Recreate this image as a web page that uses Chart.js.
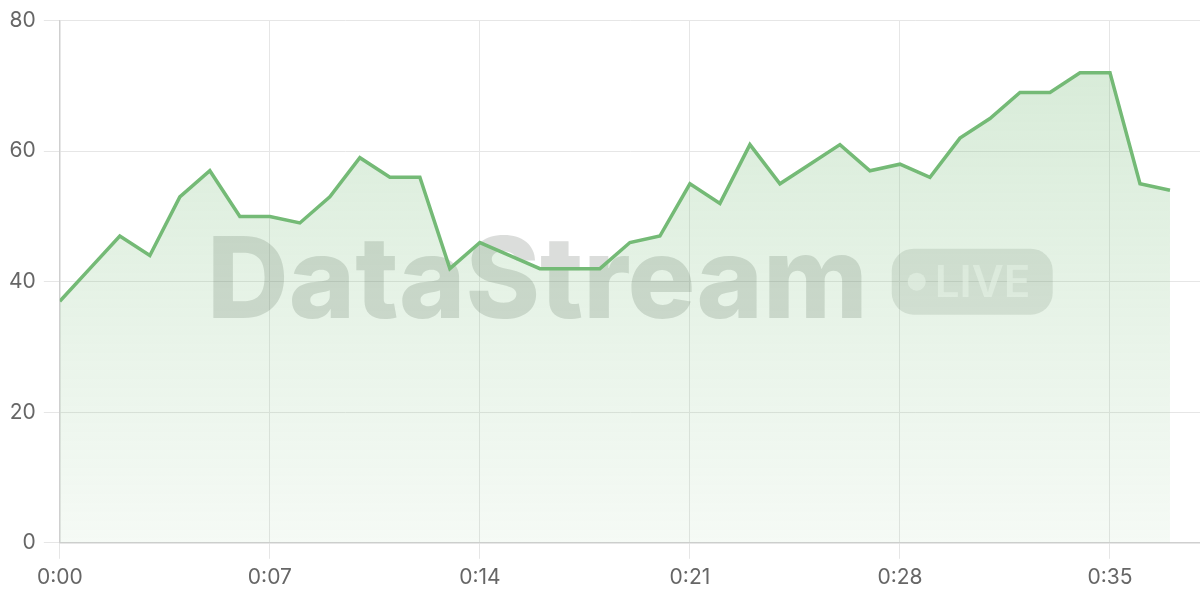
<!DOCTYPE html>
<html>
<head>
<meta charset="utf-8">
<script src="https://cdn.jsdelivr.net/npm/chart.js@4/dist/chart.umd.min.js"></script>
<style>
  html, body { margin: 0; padding: 0; background: #fff; }
  #wrap { width: 1200px; height: 600px; }
</style>
</head>
<body>
<div id="wrap"><canvas id="myChart"></canvas></div>
<script>
// seconds since start and the reading at each second
var seconds = [0,1,2,3,4,5,6,7,8,9,10,11,12,13,14,15,16,17,18,19,
               20,21,22,23,24,25,26,27,28,29,30,31,32,33,34,35,36,37];
var readings = [37,42,47,44,53,57,50,50,49,53,59,56,56,42,46,44,42,42,42,46,
                47,55,52,61,55,58,61,57,58,56,62,65,69,69,72,72,55,54];
var yTicks = [0, 20, 40, 60, 80];

var lineColor = 'rgb(116, 186, 118)';
var tickFont = { family: 'Inter, "Noto Sans", sans-serif', size: 21 };

function fmtSec(s) {
    var m = Math.floor(s / 60);
    var r = s % 60;
    return m + ':' + (r < 10 ? '0' : '') + r;
}

/////////////////////////////////////////////////////////////////
var watermark = {
    id: 'watermark',
    beforeDatasetsDraw: function (chart) {
        var ctx = chart.ctx;
        var area = chart.chartArea;
        var cx = (area.left + area.right) / 2;
        var cy = (area.top + area.bottom) / 2;

        ctx.save();
        ctx.font = '800 113px Inter, "Noto Sans", sans-serif';
        var word = 'DataStream';
        var wordW = ctx.measureText(word).width;
        var pillW = 161, pillH = 66, gap = 24;
        var total = wordW + gap + pillW;
        var x0 = cx - total / 2;

        ctx.fillStyle = 'rgba(90, 100, 90, 0.22)';
        ctx.textBaseline = 'middle';
        ctx.textAlign = 'left';
        ctx.fillText(word, x0, cy + 2);

        // LIVE pill
        var px = x0 + wordW + gap, py = cy - pillH / 2;
        ctx.beginPath();
        ctx.roundRect(px, py, pillW, pillH, 22);
        ctx.fillStyle = 'rgba(90, 100, 90, 0.16)';
        ctx.fill();

        ctx.fillStyle = 'rgba(255, 255, 255, 0.6)';
        ctx.beginPath();
        ctx.arc(px + 25, cy, 9, 0, Math.PI * 2);
        ctx.fill();
        ctx.font = '600 44px Inter, "Noto Sans", sans-serif';
        ctx.fillText('LIVE', px + 43, cy + 2);
        ctx.restore();
    }
};

var points = seconds.map(function (s, i) { return { x: s, y: readings[i] }; });

var config = {
    type: 'line',
    data: {
        datasets: [{
            data: points,
            borderColor: lineColor,
            borderWidth: 3.5,
            pointRadius: 0,
            tension: 0,
            fill: 'origin',
            backgroundColor: function (context) {
                var chart = context.chart;
                var area = chart.chartArea;
                if (!area) return 'rgba(116, 186, 118, 0.2)';
                var g = chart.ctx.createLinearGradient(0, area.top, 0, area.bottom);
                g.addColorStop(0, 'rgba(116, 186, 118, 0.30)');
                g.addColorStop(1, 'rgba(116, 186, 118, 0.07)');
                return g;
            }
        }]
    },
    options: {
        responsive: true,
        maintainAspectRatio: false,
        animation: false,
        layout: { padding: { top: 6, right: 0, left: 1, bottom: 4 } },
        plugins: {
            legend: { display: false },
            tooltip: { enabled: false }
        },
        scales: {
            x: {
                type: 'linear',
                min: 0,
                max: 38,
                grid: { color: '#e6e6e6', lineWidth: 1, tickLength: 16 },
                border: { color: '#cfcfcf', width: 1.5 },
                ticks: {
                    stepSize: 7,
                    includeBounds: false,
                    maxRotation: 0,
                    color: '#666',
                    font: tickFont,
                    padding: 6,
                    callback: function (v) { return fmtSec(v); }
                }
            },
            y: {
                min: 0,
                max: 80,
                grid: { color: '#e6e6e6', lineWidth: 1, tickLength: 16 },
                border: { color: '#cfcfcf', width: 1.5 },
                afterBuildTicks: function (axis) {
                    axis.ticks = yTicks.map(function (v) { return { value: v }; });
                },
                ticks: {
                    color: '#666',
                    font: tickFont,
                    padding: 8
                }
            }
        }
    },
    plugins: [watermark]
};

var myChart = new Chart(document.getElementById('myChart'), config);
</script>
</body>
</html>
